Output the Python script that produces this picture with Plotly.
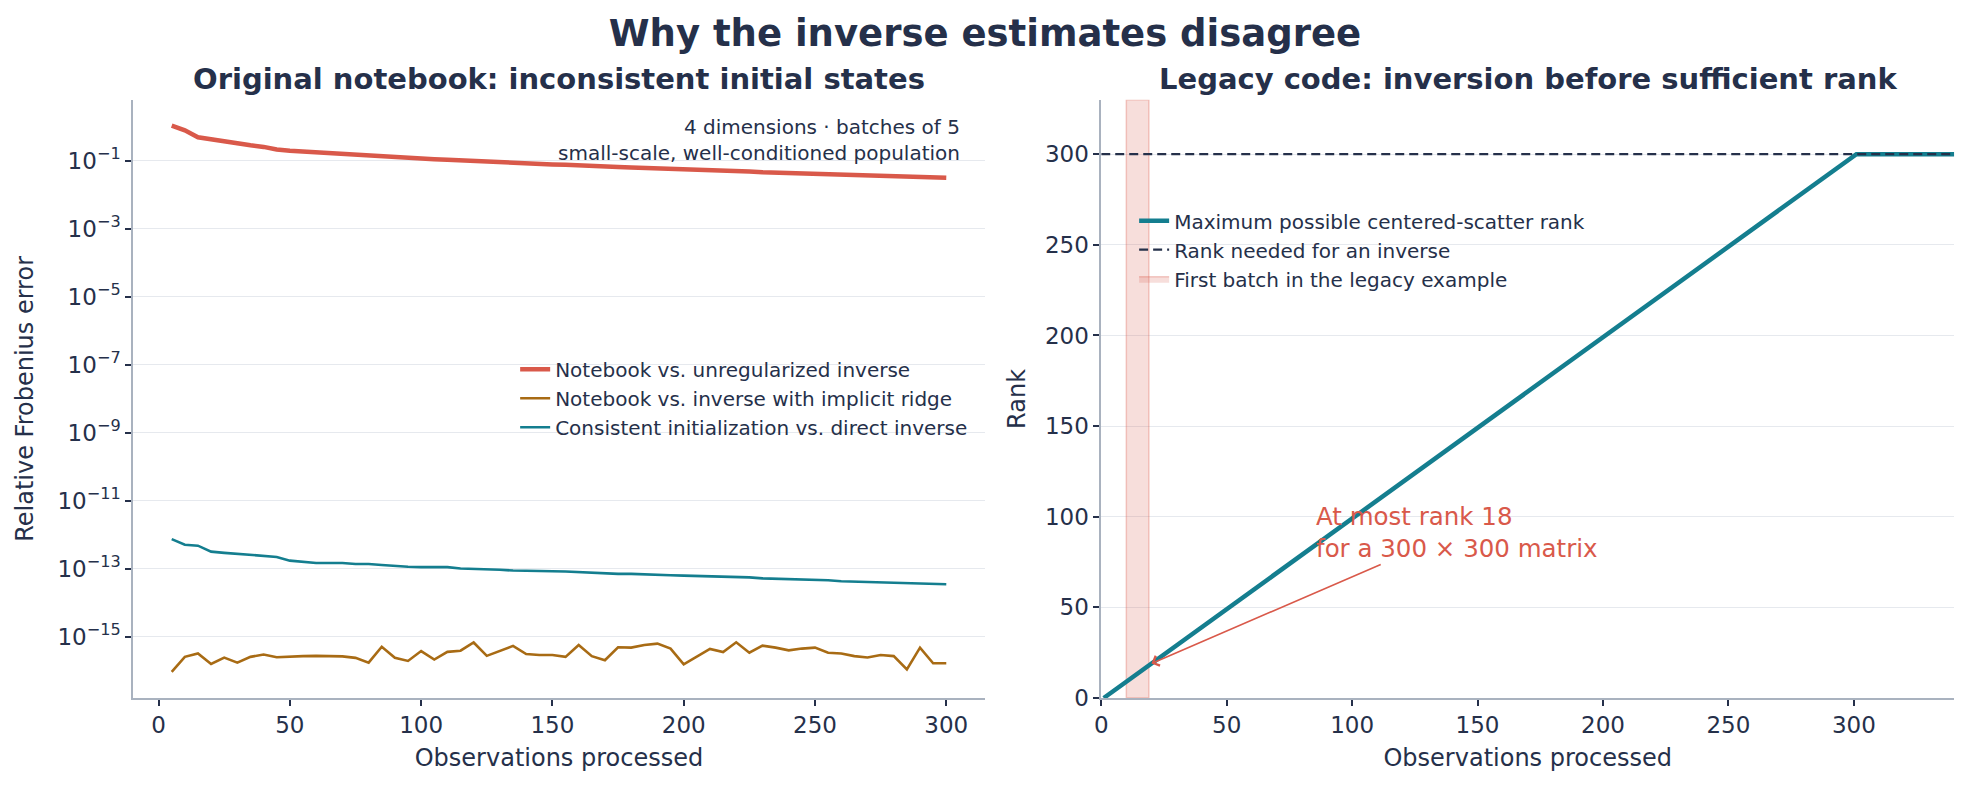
import plotly.graph_objects as go

# observations processed, in batches of 5
obs = list(range(5, 301, 5))

err_unreg = [1.10, 0.80, 0.50, 0.43, 0.37, 0.33, 0.29, 0.26, 0.217, 0.200,
             0.190, 0.180, 0.166, 0.151, 0.144, 0.138, 0.132, 0.129, 0.123, 0.118,
             0.113, 0.108, 0.103, 0.101, 0.096, 0.092, 0.088, 0.086, 0.082, 0.079,
             0.077, 0.073, 0.0715, 0.068, 0.067, 0.064, 0.0625, 0.061, 0.058, 0.057,
             0.0558, 0.053, 0.052, 0.050, 0.0488, 0.0466, 0.0455, 0.0446, 0.0436, 0.0425,
             0.0416, 0.040, 0.039, 0.038, 0.0372, 0.0363, 0.0355, 0.0347, 0.034, 0.0324]

err_ridge = [9.3e-17, 2.57e-16, 3.24e-16, 1.58e-16, 2.45e-16, 1.74e-16, 2.57e-16, 3.0e-16, 2.5e-16, 2.63e-16,
             2.7e-16, 2.75e-16, 2.75e-16, 2.65e-16, 2.4e-16, 1.74e-16, 5.1e-16, 2.4e-16, 1.95e-16, 3.8e-16,
             2.14e-16, 3.6e-16, 3.9e-16, 6.8e-16, 2.75e-16, 3.9e-16, 5.4e-16, 3.1e-16, 2.9e-16, 2.9e-16,
             2.57e-16, 5.75e-16, 2.7e-16, 2.04e-16, 4.9e-16, 4.8e-16, 5.75e-16, 6.3e-16, 4.5e-16, 1.55e-16,
             2.57e-16, 4.4e-16, 3.55e-16, 6.9e-16, 3.4e-16, 5.5e-16, 4.8e-16, 4.0e-16, 4.5e-16, 4.8e-16,
             3.4e-16, 3.24e-16, 2.7e-16, 2.45e-16, 2.9e-16, 2.7e-16, 1.1e-16, 4.8e-16, 1.66e-16, 1.66e-16]

err_consistent = [7.5e-13, 5.1e-13, 4.8e-13, 3.2e-13, 2.95e-13, 2.75e-13, 2.5e-13, 2.4e-13, 2.24e-13, 1.74e-13,
                  1.62e-13, 1.48e-13, 1.48e-13, 1.48e-13, 1.38e-13, 1.38e-13, 1.29e-13, 1.2e-13, 1.15e-13, 1.12e-13,
                  1.12e-13, 1.12e-13, 1.02e-13, 1.0e-13, 9.6e-14, 9.4e-14, 8.9e-14, 8.9e-14, 8.7e-14, 8.5e-14,
                  8.3e-14, 7.9e-14, 7.6e-14, 7.1e-14, 7.1e-14, 7.1e-14, 6.8e-14, 6.6e-14, 6.5e-14, 6.3e-14,
                  6.2e-14, 6.1e-14, 5.9e-14, 5.9e-14, 5.6e-14, 5.25e-14, 5.1e-14, 5.0e-14, 4.9e-14, 4.8e-14,
                  4.6e-14, 4.3e-14, 4.2e-14, 4.1e-14, 4.1e-14, 3.9e-14, 3.8e-14, 3.75e-14, 3.7e-14, 3.5e-14]

log_tickvals = [1e-1, 1e-3, 1e-5, 1e-7, 1e-9, 1e-11, 1e-13, 1e-15]
log_ticktext = ["10<sup>−1</sup>", "10<sup>−3</sup>", "10<sup>−5</sup>", "10<sup>−7</sup>",
                "10<sup>−9</sup>", "10<sup>−11</sup>", "10<sup>−13</sup>", "10<sup>−15</sup>"]

# legacy example: 300 dimensions
rank_obs = [1, 301, 340]
rank_max = [0, 300, 300]
dims = 300
batch_lo, batch_hi = 10, 19
rank_top = 330

NAVY = "#25304a"
RED = "#d9594a"
OCHRE = "#a86b14"
TEAL = "#147e8f"
SPINE = "#a9b2bf"
GRID = "#e6e9ee"
FONT = "DejaVu Sans"

fig = go.Figure()

fig.add_trace(go.Scatter(x=obs, y=err_unreg, mode="lines", name="Notebook vs. unregularized inverse",
                         line=dict(color=RED, width=4.5), legend="legend"))
fig.add_trace(go.Scatter(x=obs, y=err_ridge, mode="lines", name="Notebook vs. inverse with implicit ridge",
                         line=dict(color=OCHRE, width=2.6), legend="legend"))
fig.add_trace(go.Scatter(x=obs, y=err_consistent, mode="lines", name="Consistent initialization vs. direct inverse",
                         line=dict(color=TEAL, width=2.6), legend="legend"))

fig.add_trace(go.Scatter(x=[batch_lo, batch_hi, batch_hi, batch_lo, batch_lo],
                         y=[0, 0, rank_top, rank_top, 0], mode="lines", fill="toself",
                         fillcolor="rgba(217,89,74,0.2)", line=dict(color="rgba(217,89,74,0.3)", width=1.5),
                         name="First batch in the legacy example", xaxis="x2", yaxis="y2",
                         legend="legend2", legendrank=3))
fig.add_trace(go.Scatter(x=rank_obs, y=rank_max, mode="lines", name="Maximum possible centered-scatter rank",
                         line=dict(color=TEAL, width=4.5), xaxis="x2", yaxis="y2",
                         legend="legend2", legendrank=1))
fig.add_trace(go.Scatter(x=[0, 340], y=[dims, dims], mode="lines", name="Rank needed for an inverse",
                         line=dict(color=NAVY, width=2.2, dash="9px,5px"), xaxis="x2", yaxis="y2",
                         legend="legend2", legendrank=2))

axis_common = dict(showline=True, linecolor=SPINE, linewidth=1.5, ticks="outside", ticklen=6,
                   tickwidth=1.5, tickcolor=NAVY, tickfont=dict(size=23, color=NAVY),
                   zeroline=False, mirror=False, automargin=False)

fig.update_layout(
    width=1970, height=786,
    margin=dict(l=0, r=0, t=0, b=0),
    paper_bgcolor="white", plot_bgcolor="white",
    font=dict(family=FONT, color=NAVY),
    title=dict(text="<b>Why the inverse estimates disagree</b>", x=0.5, xanchor="center",
               y=0.958, yanchor="middle", font=dict(size=37, color=NAVY)),
    xaxis=dict(domain=[0.0675, 0.5], range=[-9.75, 314.75], tickvals=[0, 50, 100, 150, 200, 250, 300],
               showgrid=False, title=dict(text="Observations processed", font=dict(size=24), standoff=12),
               anchor="y", **axis_common),
    yaxis=dict(domain=[0.112, 0.873], type="log", range=[-16.8, 0.8], tickvals=log_tickvals,
               ticktext=log_ticktext, showgrid=True, gridcolor=GRID, gridwidth=1.2,
               title=dict(text="Relative Frobenius error", font=dict(size=24), standoff=17),
               anchor="x", **axis_common),
    xaxis2=dict(domain=[0.559, 0.992], range=[0, 340], tickvals=[0, 50, 100, 150, 200, 250, 300],
                showgrid=False, title=dict(text="Observations processed", font=dict(size=24), standoff=12),
                anchor="y2", **axis_common),
    yaxis2=dict(domain=[0.112, 0.873], range=[0, rank_top], tickvals=[0, 50, 100, 150, 200, 250, 300],
                showgrid=True, gridcolor=GRID, gridwidth=1.2,
                title=dict(text="Rank", font=dict(size=24), standoff=13),
                anchor="x2", **axis_common),
    legend=dict(x=0.2615, y=0.555, xanchor="left", yanchor="top", bgcolor="rgba(0,0,0,0)",
                font=dict(size=20, color=NAVY)),
    legend2=dict(x=0.5757, y=0.744, xanchor="left", yanchor="top", bgcolor="rgba(0,0,0,0)",
                 font=dict(size=20, color=NAVY)),
    showlegend=True,
)

fig.add_annotation(text="<b>Original notebook: inconsistent initial states</b>", xref="paper", yref="paper",
                   x=0.2838, y=0.9, xanchor="center", yanchor="middle", showarrow=False,
                   font=dict(size=29, color=NAVY))
fig.add_annotation(text="<b>Legacy code: inversion before sufficient rank</b>", xref="paper", yref="paper",
                   x=0.7755, y=0.9, xanchor="center", yanchor="middle", showarrow=False,
                   font=dict(size=29, color=NAVY))
fig.add_annotation(text="4 dimensions · batches of 5<br>small-scale, well-conditioned population",
                   xref="paper", yref="paper", x=0.4885, y=0.856, xanchor="right", yanchor="top",
                   align="right", showarrow=False, font=dict(size=20, color=NAVY))

fig.add_annotation(text="At most rank 18<br>for a 300 × 300 matrix", xref="x2", yref="y2",
                   x=85, y=109, xanchor="left", yanchor="top", align="left", showarrow=False,
                   font=dict(size=24.5, color=RED))
fig.add_annotation(text="", xref="x2", yref="y2", x=20, y=19, axref="x2", ayref="y2", ax=112, ay=74,
                   showarrow=True, arrowhead=4, arrowsize=1.3, arrowwidth=1.6, arrowcolor=RED, standoff=0)

fig.write_html("out.html", config={"displayModeBar": False},
               post_script="document.body.style.margin='0';")
